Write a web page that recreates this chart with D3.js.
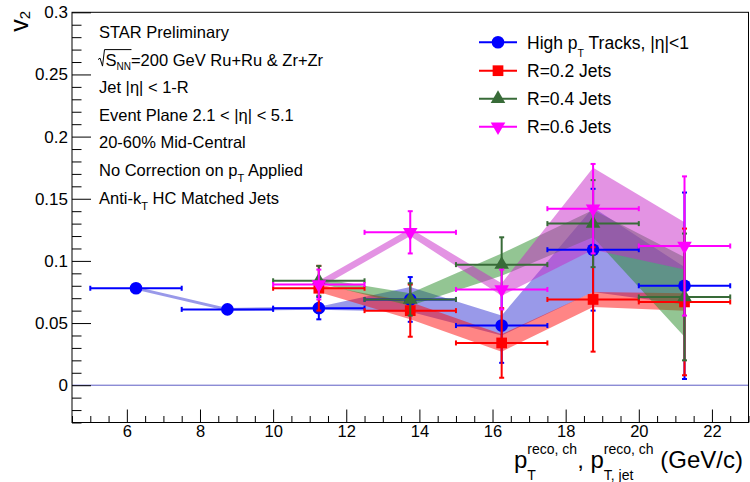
<!DOCTYPE html>
<html>
<head>
<meta charset="utf-8">
<script src="https://cdn.jsdelivr.net/npm/d3@7"></script>
<style>
  body { margin: 0; background: #fff; }
  svg { display: block; }
  text { font-family: "Liberation Sans", Arial, Helvetica, sans-serif; fill: #000; white-space: pre; }
</style>
</head>
<body>
<svg id="chart" width="750" height="482"></svg>
<script>
// ---- data ----------------------------------------------------------
const trackBins = [6.25, 8.75, 11.25, 13.75, 16.25, 18.75, 21.25];
const jetBins = [11.25, 13.75, 16.25, 18.75, 21.25];
const binHalfWidth = 1.25;

const trackV2   = [0.078, 0.061, 0.062, 0.069, 0.048, 0.109, 0.080];
const trackStat = [0.002, 0.002, 0.009, 0.018, 0.030, 0.049, 0.075];
const trackSys  = [0.0012, 0.0012, 0.0012, 0.010, 0.008, 0.034, 0.015];

const r02V2   = [0.078, 0.060, 0.034, 0.069, 0.067];
const r02Stat = [0.018, 0.021, 0.028, 0.042, 0.059];
const r02Sys  = [0.003, 0.007, 0.007, 0.006, 0.007];

const r04V2   = [0.084, 0.069, 0.097, 0.130, 0.071];
const r04Stat = [0.012, 0.013, 0.022, 0.035, 0.051];
const r04Sys  = [0.002, 0.005, 0.009, 0.011, 0.032];

const r06V2   = [0.081, 0.123, 0.077, 0.142, 0.112];
const r06Stat = [0.012, 0.017, 0.016, 0.036, 0.056];
const r06Sys  = [0.003, 0.003, 0.005, 0.033, 0.019];

const xTickValues = [6, 8, 10, 12, 14, 16, 18, 20, 22];
const xTickLabels = ["6", "8", "10", "12", "14", "16", "18", "20", "22"];
const yTickValues = [0, 0.05, 0.1, 0.15, 0.2, 0.25, 0.3];
const yTickLabels = ["0", "0.05", "0.1", "0.15", "0.2", "0.25", "0.3"];

// ---- layout --------------------------------------------------------
const svg = d3.select("#chart");
const FONT = '"Liberation Sans", Arial, Helvetica, sans-serif';
const x = d3.scaleLinear().domain([4.5, 23]).range([72, 748.5]);
const y = d3.scaleLinear().domain([-0.03, 0.3]).range([422.5, 12.3]);

const series = [
  { x: trackBins, v: trackV2, stat: trackStat, sys: trackSys,
    color: "#0000ff", band: "rgba(0,0,200,0.40)", marker: "circle" },
  { x: jetBins, v: r02V2, stat: r02Stat, sys: r02Sys,
    color: "#ff0000", band: "rgba(255,0,0,0.48)", marker: "square" },
  { x: jetBins, v: r04V2, stat: r04Stat, sys: r04Sys,
    color: "#386b38", band: "rgba(40,140,40,0.50)", marker: "triangleUp" },
  { x: jetBins, v: r06V2, stat: r06Stat, sys: r06Sys,
    color: "#ff00ff", band: "rgba(200,40,200,0.50)", marker: "triangleDown" }
];

function markerPath(kind) {
  if (kind === "circle") return d3.symbol(d3.symbolCircle, 125)();
  if (kind === "square") return d3.symbol(d3.symbolSquare, 115)();
  return d3.symbol(d3.symbolTriangle, 92)();
}
function drawMarker(g, kind, cx, cy, color) {
  const rot = kind === "triangleDown" ? 180 : 0;
  g.append("path")
    .attr("d", markerPath(kind))
    .attr("transform", `translate(${cx},${cy}) rotate(${rot})`)
    .attr("fill", color);
}

// ---- systematic bands ---------------------------------------------
const bands = svg.append("g");
series.forEach(s => {
  const pts = s.x.map((c, i) => ({ c, v: s.v[i], e: s.sys[i] }));
  const area = d3.area()
    .x(d => x(d.c))
    .y0(d => y(d.v - d.e))
    .y1(d => y(d.v + d.e));
  bands.append("path").attr("d", area(pts)).attr("fill", s.band);
});

// ---- zero line -----------------------------------------------------
svg.append("line")
  .attr("x1", x(4.5)).attr("x2", x(23))
  .attr("y1", y(0)).attr("y2", y(0))
  .attr("stroke", "#5c5cc4").attr("stroke-width", 1);

// ---- axes ----------------------------------------------------------
const xMinor = d3.range(4.5, 23.01, 0.5).filter(v => Math.abs(v / 2 - Math.round(v / 2)) > 1e-6);
const yMinor = d3.range(-0.03, 0.3001, 0.01).filter(v => Math.abs(v / 0.05 - Math.round(v / 0.05)) > 1e-6);

const gx = svg.append("g")
  .attr("transform", `translate(0,${y(-0.03)})`)
  .call(d3.axisBottom(x).tickValues(xTickValues)
    .tickFormat((d, i) => xTickLabels[i])
    .tickSizeInner(-13).tickSizeOuter(0).tickPadding(3));
gx.attr("font-family", FONT).attr("font-size", 16.5);
gx.select(".domain").remove();

const gxm = svg.append("g")
  .attr("transform", `translate(0,${y(-0.03)})`)
  .call(d3.axisBottom(x).tickValues(xMinor).tickFormat(() => "")
    .tickSizeInner(-6.5).tickSizeOuter(0));
gxm.select(".domain").remove();

const gy = svg.append("g")
  .attr("transform", `translate(${x(4.5)},0)`)
  .call(d3.axisLeft(y).tickValues(yTickValues)
    .tickFormat((d, i) => yTickLabels[i])
    .tickSizeInner(-19).tickSizeOuter(0).tickPadding(4));
gy.attr("font-family", FONT).attr("font-size", 17);
gy.select(".domain").remove();

const gym = svg.append("g")
  .attr("transform", `translate(${x(4.5)},0)`)
  .call(d3.axisLeft(y).tickValues(yMinor).tickFormat(() => "")
    .tickSizeInner(-9.5).tickSizeOuter(0));
gym.select(".domain").remove();

svg.selectAll(".tick line").attr("stroke", "#000");

// frame
svg.append("rect")
  .attr("x", x(4.5)).attr("y", y(0.3))
  .attr("width", x(23) - x(4.5)).attr("height", y(-0.03) - y(0.3))
  .attr("fill", "none").attr("stroke", "#000").attr("stroke-width", 1);

// ---- error bars and markers ---------------------------------------
const pointsG = svg.append("g");
const cap = 2.5;
series.forEach(s => {
  const g = pointsG.append("g").attr("stroke", s.color).attr("stroke-width", 2);
  s.x.forEach((c, i) => {
    const cx = x(c), cy = y(s.v[i]);
    const xl = x(c - binHalfWidth), xr = x(c + binHalfWidth);
    const yt = y(s.v[i] + s.stat[i]), yb = y(s.v[i] - s.stat[i]);
    g.append("line").attr("x1", xl).attr("x2", xr).attr("y1", cy).attr("y2", cy);
    g.append("line").attr("x1", xl).attr("x2", xl).attr("y1", cy - cap).attr("y2", cy + cap);
    g.append("line").attr("x1", xr).attr("x2", xr).attr("y1", cy - cap).attr("y2", cy + cap);
    g.append("line").attr("x1", cx).attr("x2", cx).attr("y1", yt).attr("y2", yb);
    g.append("line").attr("x1", cx - cap).attr("x2", cx + cap).attr("y1", yt).attr("y2", yt);
    g.append("line").attr("x1", cx - cap).attr("x2", cx + cap).attr("y1", yb).attr("y2", yb);
  });
  const mg = pointsG.append("g");
  s.x.forEach((c, i) => drawMarker(mg, s.marker, x(c), y(s.v[i]), s.color));
});

// ---- rich text helper (sub/superscripts) --------------------------
function rich(g, x0, y0, parts, size) {
  let cx = x0;
  parts.forEach(p => {
    if (p.t !== undefined) {
      const t = g.append("text").attr("x", cx).attr("y", y0)
        .attr("font-size", size).text(p.t);
      cx += t.node().getComputedTextLength();
    } else {
      let w = 0;
      if (p.sup) {
        const t = g.append("text").attr("x", cx).attr("y", y0 - p.rise)
          .attr("font-size", p.size).text(p.sup);
        w = Math.max(w, t.node().getComputedTextLength());
      }
      if (p.sub) {
        const t = g.append("text").attr("x", cx).attr("y", y0 + p.drop)
          .attr("font-size", p.subSize || p.size).text(p.sub);
        w = Math.max(w, t.node().getComputedTextLength());
      }
      cx += w;
    }
  });
  return cx;
}

// ---- text block ----------------------------------------------------
const info = svg.append("g");
const infoX = 99, infoSize = 16.5;
const lineY = [38, 65.6, 93.2, 120.8, 148.4, 176, 203.6];
rich(info, infoX, lineY[0], [{ t: "STAR Preliminary" }], infoSize);

// √s_NN with radical sign drawn as a path
{
  const y0 = lineY[1];
  const sx = infoX + 6.5;
  rich(info, sx, y0, [
    { t: "S" }, { sub: "NN", drop: 4, size: 10 }, { t: "=200 GeV Ru+Ru & Zr+Zr" }
  ], infoSize);
  const probe = info.append("text").attr("font-size", infoSize).attr("opacity", 0).text("S");
  const sEnd = sx + probe.node().getComputedTextLength();
  const probe2 = info.append("text").attr("font-size", 10).attr("opacity", 0).text("NN");
  const nnW = probe2.node().getComputedTextLength();
  probe.remove(); probe2.remove();
  info.append("path")
    .attr("d", `M${infoX - 1},${y0 - 6} L${infoX + 1},${y0 - 7.5} L${infoX + 3.5},${y0 + 0.5} L${infoX + 5.5},${y0 - 16} L${sEnd + nnW + 0.5},${y0 - 16}`)
    .attr("fill", "none").attr("stroke", "#000").attr("stroke-width", 1);
}
rich(info, infoX, lineY[2], [{ t: "Jet |η| < 1-R" }], infoSize);
rich(info, infoX, lineY[3], [{ t: "Event Plane 2.1 < |η| < 5.1" }], infoSize);
rich(info, infoX, lineY[4], [{ t: "20-60% Mid-Central" }], infoSize);
rich(info, infoX, lineY[5], [{ t: "No Correction on p" }, { sub: "T", drop: 6, size: 11 }, { t: " Applied" }], infoSize);
rich(info, infoX, lineY[6], [{ t: "Anti-k" }, { sub: "T", drop: 6, size: 11 }, { t: " HC Matched Jets" }], infoSize);

// ---- legend --------------------------------------------------------
const legend = svg.append("g");
const legendRows = [
  [{ t: "High p" }, { sub: "T", drop: 8, size: 10.5 }, { t: " Tracks, |η|<1" }],
  [{ t: "R=0.2 Jets" }],
  [{ t: "R=0.4 Jets" }],
  [{ t: "R=0.6 Jets" }]
];
const legendBase = [48.5, 77, 105, 133];
series.forEach((s, i) => {
  const cy = legendBase[i] - 6.3;
  legend.append("line").attr("x1", 479).attr("x2", 517).attr("y1", cy).attr("y2", cy)
    .attr("stroke", s.color).attr("stroke-width", 2);
  drawMarker(legend, s.marker, 498, cy, s.color);
  rich(legend, 527, legendBase[i], legendRows[i], 17.5);
});

// ---- axis titles ---------------------------------------------------
{
  const tg = svg.append("g");
  const parts = [
    { t: "p" }, { sup: "reco, ch", rise: 14, sub: "T", drop: 11.5, size: 14 },
    { t: ", p" }, { sup: "reco, ch", rise: 14, sub: "T, jet", drop: 11.5, size: 14 },
    { t: " (GeV/c)" }
  ];
  const end = rich(tg, 0, 468, parts, 24);
  tg.attr("transform", `translate(${743 - end},0)`);
}
{
  const tg = svg.append("g").attr("transform", "translate(28,11) rotate(-90)");
  const t = tg.append("text").attr("text-anchor", "end").attr("x", 0).attr("y", 0);
  t.append("tspan").attr("font-size", 25).text("v");
  t.append("tspan").attr("font-size", 15).attr("dy", 2).text("2");
}
</script>
</body>
</html>
